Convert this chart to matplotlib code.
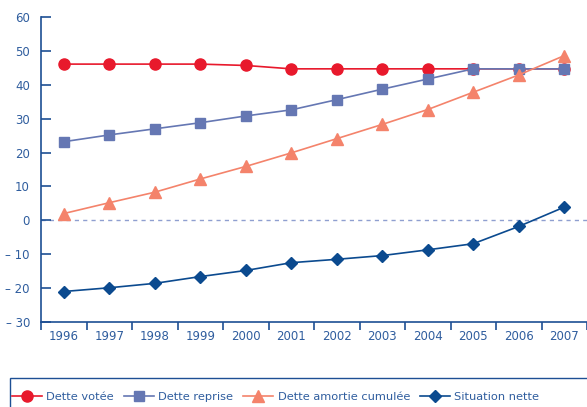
import matplotlib.pyplot as plt
from matplotlib.patches import Rectangle
import numpy as np

annees = ['1996', '1997', '1998', '1999', '2000', '2001', '2002', '2003', '2004', '2005', '2006', '2007']
dette_votee = [46.1, 46.1, 46.1, 46.1, 45.7, 44.7, 44.7, 44.7, 44.7, 44.7, 44.7, 44.7]
dette_reprise = [23.2, 25.2, 27.0, 28.8, 30.8, 32.6, 35.6, 38.7, 41.7, 44.7, 44.7, 44.7]
dette_amortie = [2.0, 5.2, 8.3, 12.2, 15.9, 19.9, 24.1, 28.3, 32.7, 37.8, 42.9, 48.6]
situation_nette = [-21.0, -19.9, -18.6, -16.6, -14.8, -12.5, -11.5, -10.4, -8.7, -6.9, -1.8, 3.9]
yticks = [-30, -20, -10, 0, 10, 20, 30, 40, 50, 60]

bleu_axe = '#1d4f94'
bleu_texte = '#2f5d9e'

fig = plt.figure(figsize=(5.87, 4.07), dpi=100)
ax = fig.add_axes([41/587, 1 - 322/407, 1 - 41/587, 305/407])

x = np.arange(len(annees))
ax.axhline(0, color='#8f9fd0', lw=1, ls=(0, (3, 3)), zorder=1)
ax.plot(x, dette_votee, color='#e8192c', marker='o', ms=8, lw=1.2, label='Dette votée', zorder=3)
ax.plot(x, dette_reprise, color='#6577b3', marker='s', ms=7.5, lw=1.2, label='Dette reprise', zorder=4)
ax.plot(x, dette_amortie, color='#f4836b', marker='^', ms=8.5, lw=1.2, label='Dette amortie cumulée', zorder=5)
ax.plot(x, situation_nette, color='#0b4a8f', marker='D', ms=6.5, lw=1.2, label='Situation nette', zorder=6)

ax.set_xlim(-0.5, len(annees) - 0.5)
ax.set_ylim(-30, 60)
ax.set_yticks(yticks)
ax.set_yticklabels([('– ' + str(-v)) if v < 0 else str(v) for v in yticks])
ax.set_xticks(x)
ax.set_xticklabels(annees)
ax.set_xticks(np.arange(-0.5, len(annees)), minor=True)

for s in ['top', 'right']:
    ax.spines[s].set_visible(False)
for s in ['left', 'bottom']:
    ax.spines[s].set_color(bleu_axe)
    ax.spines[s].set_linewidth(1.2)

ax.tick_params(axis='y', direction='in', length=7, width=1.2, color=bleu_axe,
               labelcolor=bleu_texte, labelsize=8.5, pad=8)
ax.tick_params(axis='x', which='major', length=0, labelcolor=bleu_texte, labelsize=8.5, pad=6)
ax.tick_params(axis='x', which='minor', direction='out', length=6, width=1.2, color=bleu_axe)

# cadre de la légende, ouvert vers la droite et le bas
fig.patches.append(Rectangle((10/587, -0.05), 1.0, 0.05 + 1 - 378/407, transform=fig.transFigure,
                             fill=False, edgecolor=bleu_axe, lw=1))

leg = fig.legend(loc='center left', bbox_to_anchor=(12/587, 1 - 397/407), ncol=4,
                 frameon=False, fontsize=8.2, handlelength=2.6,
                 columnspacing=0.9, handletextpad=0.4, borderpad=0, borderaxespad=0)
for t in leg.get_texts():
    t.set_color(bleu_texte)

fig.savefig('out.png', dpi=100)
